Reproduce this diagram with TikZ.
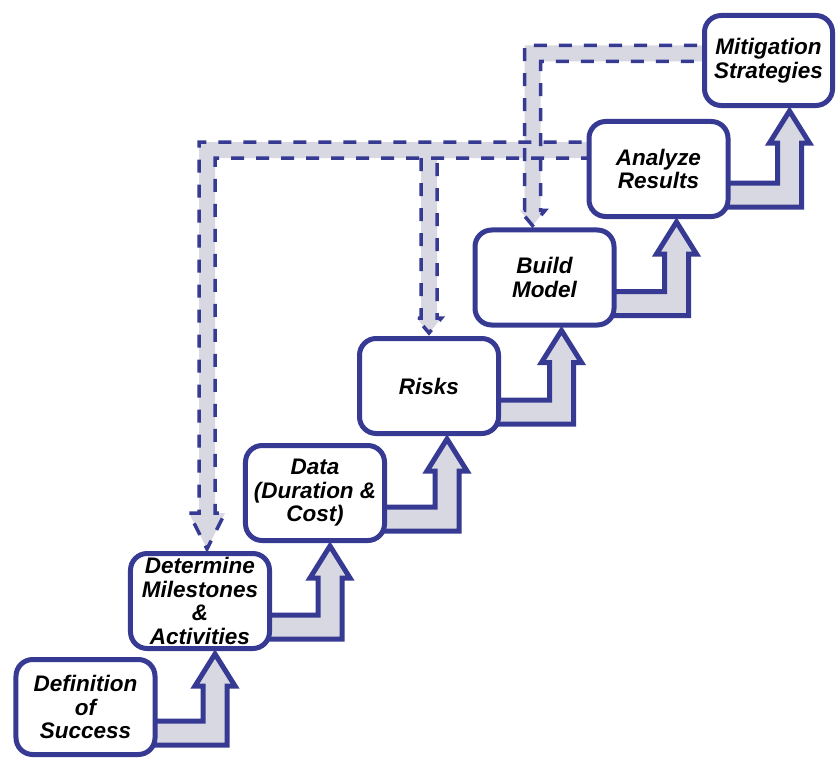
\documentclass[tikz,border=0pt]{standalone}
\usepackage{fontspec}
\setmainfont{Liberation Sans}
\usetikzlibrary{calc,backgrounds}

\definecolor{stepblue}{RGB}{54,58,146}
\definecolor{stepgray}{RGB}{216,216,227}

\tikzset{
  stepbox/.style={draw=stepblue, line width=0.15cm, fill=white, rounded corners=0.5cm,
    minimum width=4.17cm, minimum height=2.85cm, inner sep=0pt, align=center,
    font=\fontsize{19.2}{20}\selectfont\bfseries\itshape},
  steparrow/.style={draw=stepblue, fill=stepgray, line width=0.15cm, line join=miter},
  flowfill/.style={fill=stepgray},
  flowline/.style={draw=stepblue, line width=0.105cm, dash pattern=on 0.39cm off 0.36cm},
}

\begin{document}
\begin{tikzpicture}[x=0.03cm, y=-0.03cm]
  \useasboundingbox (0,0) rectangle (836,758);

  % Steps, from bottom left to top right
  \node[stepbox] (def) at (85.5,707) {Definition\\of\\Success};
  \node[stepbox] (mil) at (200,601) {Determine\\Milestones\\\&\\Activities};
  \node[stepbox] (dat) at (315,493) {Data\\(Duration \&\\Cost)};
  \node[stepbox] (rsk) at (429,386) {Risks};
  \node[stepbox] (bld) at (544.5,277.5) {Build\\Model};
  \node[stepbox] (ana) at (658.5,169) {Analyze\\Results};
  \node[stepbox, minimum width=3.84cm, minimum height=2.7cm] (mit) at (768.5,60.5) {Mitigation\\Strategies};

  \begin{pgfonlayer}{background}
    % Bent arrows between the steps
    \foreach \a/\b/\dx in {def/mil/15, mil/dat/15, dat/rsk/18, rsk/bld/17, bld/ana/18, ana/mit/21}{
      \coordinate (t) at ($(\b.south)+(\dx,3)$);
      \coordinate (c) at ($(\a.south)+(0,-24)$);
      \draw[steparrow] ($(c)+(0,12)$) -- ($(t |- c)+(12,12)$) -- ($(t)+(12,32)$)
        -- ($(t)+(20,32)$) -- (t) -- ($(t)+(-20,32)$) -- ($(t)+(-12,32)$)
        -- ($(t |- c)+(-12,-12)$) -- ($(c)+(0,-12)$) -- cycle;
    }

    % Feedback arrows: end points
    \coordinate (aS) at ($(mit.west)+(20,-7)$);
    \coordinate (aT) at ($(bld.north)+(-12,-2)$);
    \coordinate (bS) at ($(ana.west)+(20,-19)$);
    \coordinate (bT) at ($(mil.north)+(7,-2)$);
    \coordinate (cT) at ($(rsk.north)+(0,-3)$);
    \coordinate (cS) at (cT |- bS);

    % Feedback arrows: bands
    \fill[flowfill] ($(aS)+(0,-8)$) -- ($(aT |- aS)+(-8,-8)$) -- ($(aT)+(-8,-15)$)
      -- ($(aT)+(-12.5,-15)$) -- (aT) -- ($(aT)+(12.5,-15)$) -- ($(aT)+(8,-15)$)
      -- ($(aT |- aS)+(8,8)$) -- ($(aS)+(0,8)$) -- cycle;
    \fill[flowfill] ($(bS)+(0,-8)$) -- ($(bT |- bS)+(-8,-8)$) -- ($(bT)+(-8,-36)$)
      -- ($(bT)+(-18,-36)$) -- (bT) -- ($(bT)+(18,-36)$) -- ($(bT)+(8,-36)$)
      -- ($(bT |- bS)+(8,8)$) -- ($(bS)+(0,8)$) -- cycle;
    \fill[flowfill] ($(cS)+(-8,0)$) -- ($(cT)+(-8,-15)$) -- ($(cT)+(-12.5,-15)$)
      -- (cT) -- ($(cT)+(12.5,-15)$) -- ($(cT)+(8,-15)$) -- ($(cS)+(8,0)$) -- cycle;

    % Feedback arrows: dashed outlines
    \draw[flowline] ($(aS)+(0,-8)$) -- ($(aT |- aS)+(-8,-8)$) -- ($(aT)+(-8,-15)$)
      -- ($(aT)+(-12.5,-15)$) -- (aT) -- ($(aT)+(12.5,-15)$) -- ($(aT)+(8,-15)$)
      -- ($(aT |- aS)+(8,8)$) -- ($(aS)+(0,8)$);
    \draw[flowline] ($(bS)+(0,-8)$) -- ($(bT |- bS)+(-8,-8)$) -- ($(bT)+(-8,-36)$)
      -- ($(bT)+(-18,-36)$) -- (bT) -- ($(bT)+(18,-36)$) -- ($(bT)+(8,-36)$)
      -- ($(bT |- bS)+(8,8)$) -- ($(bS)+(0,8)$);
    \draw[flowline] ($(cS)+(-8,8)$) -- ($(cT)+(-8,-15)$) -- ($(cT)+(-12.5,-15)$)
      -- (cT) -- ($(cT)+(12.5,-15)$) -- ($(cT)+(8,-15)$) -- ($(cS)+(8,8)$);
  \end{pgfonlayer}
\end{tikzpicture}
\end{document}
